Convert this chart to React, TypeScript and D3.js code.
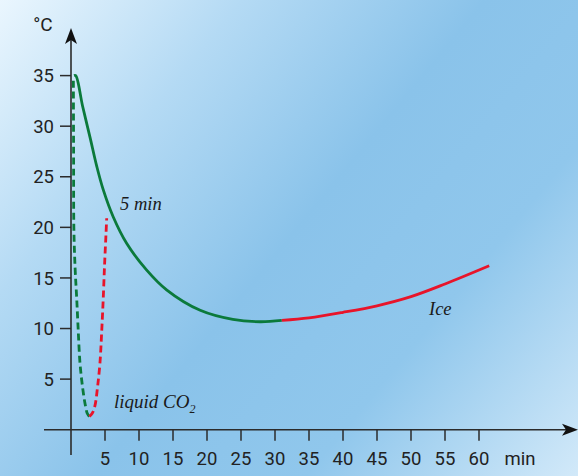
import { useEffect } from "react";
import * as d3 from "d3";

// time (min) / temperature (°C)
const airT = [0.45, 0.7, 1.7, 2.8, 3.8, 4.75, 6.2, 8.2, 11.1, 14.1, 19, 23.8, 27.8, 31];
const airC = [35, 35, 32.0, 28.9, 26.0, 23.7, 21.05, 18.4, 15.8, 13.8, 11.8, 10.9, 10.67, 10.8];

const iceT = [31, 35, 40, 45, 50, 55, 61.5];
const iceC = [10.8, 11.05, 11.6, 12.25, 13.15, 14.4, 16.2];

const co2DownT = [0.35, 0.38, 0.42, 0.6, 0.83, 1.05, 1.32, 1.7, 2.06, 2.4, 2.7];
const co2DownC = [34.5, 28, 20, 16, 13.1, 10, 6.6, 4.2, 2.6, 1.6, 1.3];

const co2UpT = [2.7, 3.1, 3.5, 3.9, 4.26, 4.5, 4.75, 4.95, 5.15, 5.25];
const co2UpC = [1.3, 1.6, 2.3, 4.2, 6.6, 9.5, 13.1, 16.5, 19.4, 20.9];

const xTicks = [5, 10, 15, 20, 25, 30, 35, 40, 45, 50, 55, 60];
const yTicks = [5, 10, 15, 20, 25, 30, 35];

const W = 578;
const H = 476;
const GREEN = "#0b7a3b";
const RED = "#e8142a";

export default function App() {
  useEffect(() => {
    document.body.style.margin = "0";
  }, []);

  const x = d3.scaleLinear().domain([0, 60]).range([71, 479]);
  const y = d3.scaleLinear().domain([0, 35]).range([429.7, 75.6]);

  const pathOf = (ts: number[], cs: number[]) =>
    d3
      .line<number>()
      .x((t) => x(t))
      .y((_, i) => y(cs[i]))
      .curve(d3.curveCatmullRom.alpha(0.5))(ts) || "";

  const x0 = x(0);
  const y0 = y(0);
  const tickFont = "Roboto, 'DejaVu Sans', sans-serif";
  const noteFont = "'Liberation Serif', 'DejaVu Serif', serif";

  return (
    <svg width={W} height={H} style={{ display: "block" }}>
      <defs>
        <linearGradient id="bg" gradientUnits="userSpaceOnUse" x1={0} y1={0} x2={W} y2={H}>
          <stop offset="0" stopColor="#eaf6fe" />
          <stop offset="0.25" stopColor="#b4daf4" />
          <stop offset="0.5" stopColor="#8ac3ea" />
          <stop offset="0.72" stopColor="#90c7ec" />
          <stop offset="1" stopColor="#d2e9f9" />
        </linearGradient>
      </defs>
      <rect width={W} height={H} fill="url(#bg)" />

      {/* axes */}
      <line x1={x0} x2={x0} y1={34} y2={455} stroke="#2b2b2b" strokeWidth={1.6} />
      <path d={`M${x0},28 L${x0 + 6},44 L${x0},40 L${x0 - 6},44 Z`} fill="#111" />
      <line x1={44} x2={572} y1={y0} y2={y0} stroke="#2b2b2b" strokeWidth={1.6} />
      <path d={`M578,${y0} L562,${y0 - 6} L566,${y0} L562,${y0 + 6} Z`} fill="#111" />

      {yTicks.map((v) => (
        <g key={"y" + v}>
          <line x1={x0 - 11} x2={x0} y1={y(v)} y2={y(v)} stroke="#2b2b2b" strokeWidth={1.5} />
          <text
            x={x0 - 17}
            y={y(v)}
            dy="0.36em"
            textAnchor="end"
            fontFamily={tickFont}
            fontSize={18.5}
            fill="#222"
          >
            {v}
          </text>
        </g>
      ))}
      {xTicks.map((v) => (
        <g key={"x" + v}>
          <line x1={x(v)} x2={x(v)} y1={y0} y2={y0 + 11} stroke="#2b2b2b" strokeWidth={1.5} />
          <text
            x={x(v)}
            y={458}
            dy="0.36em"
            textAnchor="middle"
            fontFamily={tickFont}
            fontSize={18.5}
            fill="#222"
          >
            {v}
          </text>
        </g>
      ))}
      <text x={520} y={458} dy="0.36em" textAnchor="middle" fontFamily={tickFont} fontSize={18.5} fill="#222">
        min
      </text>
      <text x={43} y={24} dy="0.36em" textAnchor="middle" fontFamily={tickFont} fontSize={19} fill="#222">
        °C
      </text>

      {/* curves */}
      <path d={pathOf(co2DownT, co2DownC)} fill="none" stroke={GREEN} strokeWidth={2.8} strokeDasharray="7 4" />
      <path d={pathOf(co2UpT, co2UpC)} fill="none" stroke={RED} strokeWidth={2.8} strokeDasharray="7 4" />
      <path d={pathOf(airT, airC)} fill="none" stroke={GREEN} strokeWidth={2.8} />
      <path d={pathOf(iceT, iceC)} fill="none" stroke={RED} strokeWidth={2.8} />

      {/* notes */}
      <text x={120} y={210} fontFamily={noteFont} fontStyle="italic" fontSize={18.5} fill="#1a1a1a">
        5 min
      </text>
      <text x={114} y={408} fontFamily={noteFont} fontStyle="italic" fontSize={19} fill="#1a1a1a">
        liquid CO
        <tspan fontSize={12} dy={5}>
          2
        </tspan>
      </text>
      <text x={429} y={315} fontFamily={noteFont} fontStyle="italic" fontSize={18.5} fill="#1a1a1a">
        Ice
      </text>
    </svg>
  );
}
